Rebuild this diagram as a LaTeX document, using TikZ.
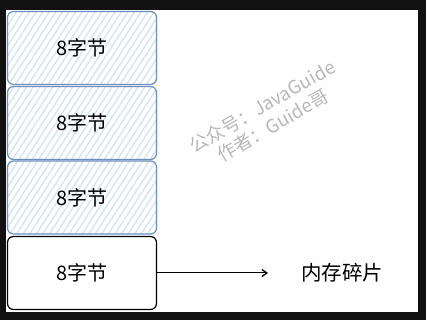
\documentclass[tikz,border=0pt]{standalone}
\usepackage{fontspec}
\newfontfamily\cjk{Noto Sans CJK SC}
\usetikzlibrary{patterns.meta,arrows.meta}
\definecolor{frame}{HTML}{111111}
\definecolor{bluebd}{HTML}{6C8EBF}
\definecolor{hatch}{HTML}{D6E4F7}
\tikzset{
  mem/.style={draw=bluebd, line width=1.2pt, rounded corners=6pt,
    pattern={Lines[angle=57,distance=5.5pt,line width=1.4pt]}, pattern color=hatch,
    minimum width=149pt, minimum height=73pt, inner sep=0pt,
    font=\cjk\fontsize{20}{22}\selectfont},
  frag/.style={mem, draw=black, pattern=none, fill=white},
  wm/.style={text=black!28, font=\cjk\fontsize{18.5}{22}\selectfont, rotate=30, align=center, inner sep=0pt},
  lbl/.style={font=\cjk\fontsize{20.5}{22}\selectfont}
}
\begin{document}
\begin{tikzpicture}[x=1pt,y=-1pt]
\fill[frame] (0,0) rectangle (426,320);
\fill[white] (6,10) rectangle (418,312);
\useasboundingbox (0,0) rectangle (426,320);
\node[mem] (b1) at (82,48) {8字节};
\node[mem] (b2) at (82,123) {8字节};
\node[mem] (b3) at (82,197.5) {8字节};
\node[frag] (b4) at (82,273) {8字节};
\node[lbl] (t) at (342,273) {内存碎片};
\coordinate (a) at (268,273);
\draw[line width=1pt, -{Straight Barb[length=5pt,width=7pt,line width=1.3pt]}] (b4.east) -- (a);
\node[wm] (w) at (267.5,116) {公众号：JavaGuide\\作者：Guide哥};
\end{tikzpicture}
\end{document}
